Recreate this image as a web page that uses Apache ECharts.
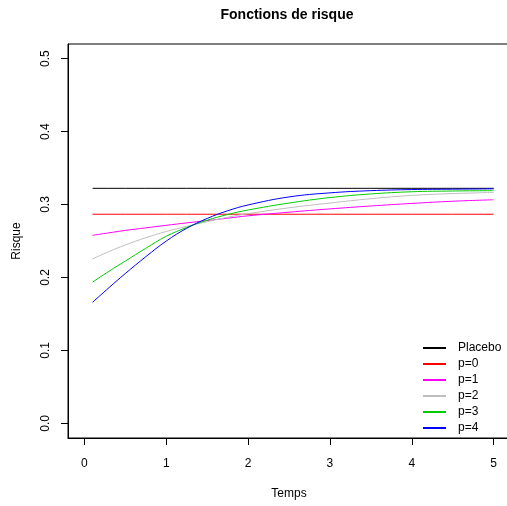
<!DOCTYPE html>
<html>
<head>
<meta charset="utf-8">
<script src="https://cdn.jsdelivr.net/npm/echarts@6/dist/echarts.min.js"></script>
<style>
  html, body { margin: 0; padding: 0; background: #fff; }
  #chart { width: 507px; height: 506px; }
</style>
</head>
<body>
<div id="chart"></div>
<script>
// temps (x) et risques
var temps = [0.1, 0.3, 0.5, 0.75, 1, 1.25, 1.5, 1.75, 2, 2.5, 3, 3.5, 4, 4.5, 5];
var placebo = [0.3222, 0.3222, 0.3222, 0.3222, 0.3222, 0.3222, 0.3222, 0.3222, 0.3222, 0.3222, 0.3222, 0.3222, 0.3222, 0.3222, 0.3222];
var p0 = [0.2867, 0.2867, 0.2867, 0.2867, 0.2867, 0.2867, 0.2867, 0.2867, 0.2867, 0.2867, 0.2867, 0.2867, 0.2867, 0.2867, 0.2867];
var p1 = [0.2578, 0.2612, 0.2645, 0.268, 0.2715, 0.2748, 0.278, 0.2813, 0.2845, 0.2895, 0.294, 0.298, 0.3015, 0.3045, 0.3065];
var p2 = [0.2254, 0.2355, 0.2445, 0.2545, 0.263, 0.270, 0.2765, 0.2825, 0.2875, 0.2955, 0.302, 0.308, 0.3125, 0.315, 0.3165];
var p3 = [0.1936, 0.2085, 0.2225, 0.2400, 0.2565, 0.2685, 0.2785, 0.2863, 0.2925, 0.302, 0.3095, 0.3145, 0.3175, 0.3185, 0.319];
var p4 = [0.166, 0.186, 0.2054, 0.2284, 0.2499, 0.2674, 0.2809, 0.2914, 0.2994, 0.3104, 0.316, 0.319, 0.3205, 0.321, 0.3215];

var noms = ['Placebo', 'p=0', 'p=1', 'p=2', 'p=3', 'p=4'];
var valeurs = [placebo, p0, p1, p2, p3, p4];
var couleurs = ['#000000', '#FF0000', '#FF00FF', '#BEBEBE', '#00CD00', '#0000FF'];
var xTicks = [0, 1, 2, 3, 4, 5];
var yTicks = [0, 0.1, 0.2, 0.3, 0.4, 0.5];

var police = 'Liberation Sans, Arial, Helvetica, sans-serif';

var myChart = echarts.init(document.getElementById('chart'));

var series_data = [];
var legend_data = [];
for (var i = 0; i < noms.length; i++) {
    var pts = [];
    for (var j = 0; j < temps.length; j++) {
        pts.push([temps[j], valeurs[i][j]]);
    }
    series_data.push({
        name: noms[i],
        type: 'line',
        data: pts,
        smooth: i > 1 ? 0.4 : false,
        symbol: 'none',
        silent: true,
        lineStyle: {color: couleurs[i], width: 1},
        itemStyle: {color: couleurs[i]}
    });
    legend_data.push({name: noms[i], itemStyle: {color: couleurs[i]}});
}

var option = {
    animation: false,
    title: {
        text: 'Fonctions de risque',
        left: 282,
        top: 3,
        textAlign: 'center',
        textStyle: {fontFamily: police, fontSize: 14, fontWeight: 'bold', color: '#000'}
    },
    legend: {
        orient: 'vertical',
        left: 418,
        top: 337,
        icon: 'rect',
        itemWidth: 23,
        itemHeight: 2,
        itemGap: 4,
        data: legend_data,
        textStyle: {fontFamily: police, fontSize: 12, color: '#000', lineHeight: 12, padding: [0, 0, 0, 7]}
    },
    grid: {
        left: 68,
        top: 44,
        width: 442,
        height: 394,
        show: true,
        borderColor: '#000',
        borderWidth: 1,
        containLabel: false,
        outerBoundsMode: 'none'
    },
    xAxis: {
        type: 'value',
        min: -0.2,
        max: 5.2,
        name: 'Temps',
        nameLocation: 'middle',
        nameGap: 50,
        nameTextStyle: {fontFamily: police, fontSize: 12, color: '#000'},
        axisLine: {show: true, onZero: false, lineStyle: {color: '#000'}},
        axisTick: {show: true, length: 7, lineStyle: {color: '#000'},
            customValues: xTicks},
        axisLabel: {fontFamily: police, fontSize: 12, color: '#000', margin: 20,
            customValues: xTicks},
        splitLine: {show: false}
    },
    yAxis: {
        type: 'value',
        min: -0.02,
        max: 0.52,
        name: 'Risque',
        nameLocation: 'middle',
        nameGap: 45,
        nameTextStyle: {fontFamily: police, fontSize: 12, color: '#000'},
        axisLine: {show: true, onZero: false, lineStyle: {color: '#000'}},
        axisTick: {show: true, length: 7, lineStyle: {color: '#000'},
            customValues: yTicks},
        axisLabel: {fontFamily: police, fontSize: 12, color: '#000', margin: 16,
            rotate: 90, customValues: yTicks,
            formatter: function (v) { return v.toFixed(1); }},
        splitLine: {show: false}
    },
    series: series_data
};
myChart.setOption(option);
</script>
</body>
</html>
